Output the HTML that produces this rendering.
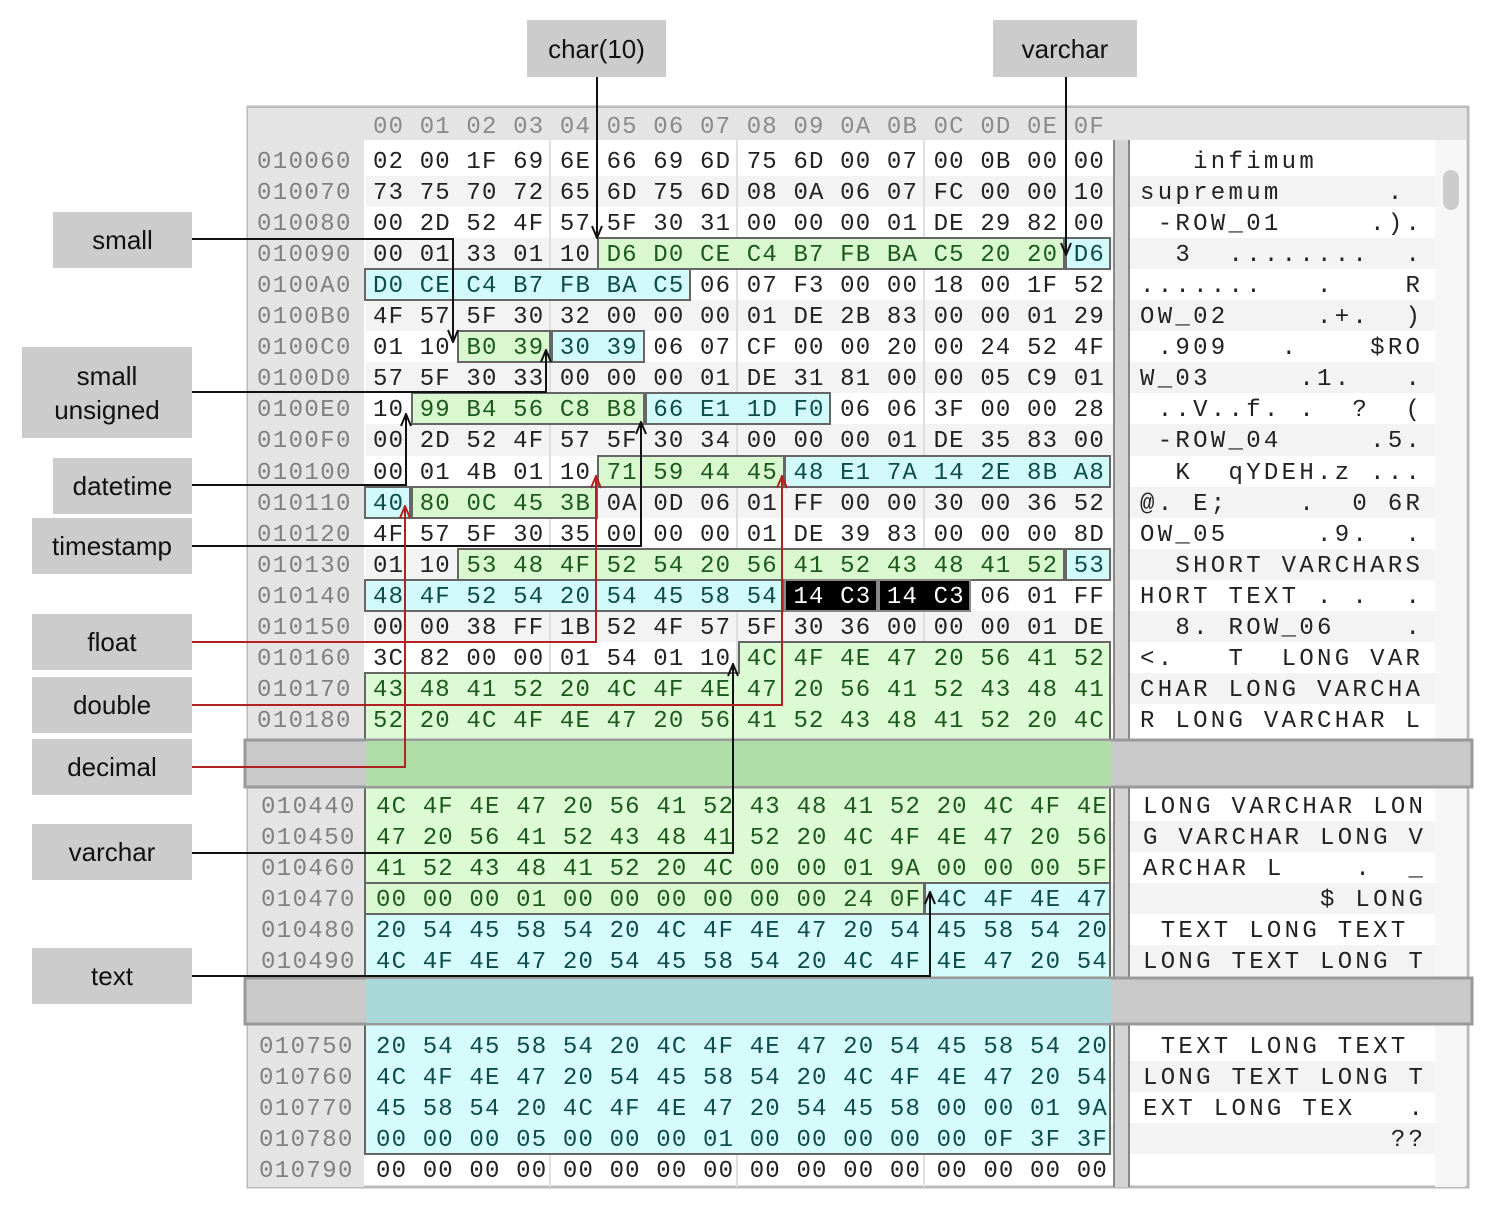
<!DOCTYPE html>
<html><head><meta charset="utf-8"><style>
*{margin:0;padding:0;box-sizing:border-box}
body{width:1502px;height:1230px;background:#fff;position:relative;overflow:hidden;font-family:"Liberation Sans",sans-serif}
.r{position:absolute;height:31px;line-height:31px;padding-top:2px;font-family:"Liberation Mono",monospace;font-size:24px;white-space:pre}
.h{left:373px;letter-spacing:1.17px;color:#222}
.a{left:257px;letter-spacing:1.4px;color:#808080}
.t{left:1140px;letter-spacing:3.3px;color:#222}
.g{color:#1b5a1b}.c{color:#0c4c4c}.w{color:#fff}
.lab{position:absolute;background:#cccccc;font-size:26px;color:#111;display:flex;align-items:center;justify-content:center;text-align:center;line-height:34px}
svg{position:absolute;left:0;top:0}
</style></head><body>
<svg width="1502" height="1230" style="z-index:0">
<rect x="248" y="107" width="1220" height="1080" fill="#fff" stroke="#bbb" stroke-width="3"/>
<rect x="248" y="108" width="1218" height="32" fill="#e4e4e4"/>
<rect x="248" y="140" width="116" height="1047" fill="#e4e4e4"/>
<rect x="1113" y="140" width="17" height="1047" fill="#d4d4d4"/>
<line x1="1114" y1="140" x2="1114" y2="1187" stroke="#888" stroke-width="2"/>
<line x1="1129" y1="140" x2="1129" y2="1187" stroke="#888" stroke-width="2"/>
<rect x="1435" y="140" width="30" height="1047" fill="#f6f6f6"/>
<rect x="1443" y="170" width="16" height="40" rx="8" fill="#ccc"/>
<g fill="#f2f3f2">
<rect x="366" y="176" width="747" height="31"/><rect x="1130" y="176" width="305" height="31"/>
<rect x="366" y="238" width="747" height="31"/><rect x="1130" y="238" width="305" height="31"/>
<rect x="366" y="300" width="747" height="31"/><rect x="1130" y="300" width="305" height="31"/>
<rect x="366" y="362" width="747" height="31"/><rect x="1130" y="362" width="305" height="31"/>
<rect x="366" y="424" width="747" height="32"/><rect x="1130" y="424" width="305" height="32"/>
<rect x="366" y="487" width="747" height="31"/><rect x="1130" y="487" width="305" height="31"/>
<rect x="366" y="549" width="747" height="31"/><rect x="1130" y="549" width="305" height="31"/>
<rect x="366" y="611" width="747" height="31"/><rect x="1130" y="611" width="305" height="31"/>
<rect x="366" y="673" width="747" height="31"/><rect x="1130" y="673" width="305" height="31"/>
<rect x="366" y="821" width="747" height="31"/><rect x="1130" y="821" width="305" height="31"/>
<rect x="366" y="883" width="747" height="31"/><rect x="1130" y="883" width="305" height="31"/>
<rect x="366" y="945" width="747" height="31"/><rect x="1130" y="945" width="305" height="31"/>
<rect x="366" y="1061" width="747" height="31"/><rect x="1130" y="1061" width="305" height="31"/>
<rect x="366" y="1123" width="747" height="31"/><rect x="1130" y="1123" width="305" height="31"/>
</g>
<g stroke="#dde0dd" stroke-width="2"><line x1="550" y1="140" x2="550" y2="1187"/><line x1="737" y1="140" x2="737" y2="1187"/><line x1="924" y1="140" x2="924" y2="1187"/></g>
<g stroke="#666" stroke-width="2">
<rect x="598" y="238" width="466" height="31" fill="#d9f8d0"/><rect x="1066" y="238" width="44" height="31" fill="#d3fafa"/>
<rect x="365" y="269" width="325" height="31" fill="#d3fafa"/>
<rect x="458" y="331" width="92" height="31" fill="#d9f8d0"/><rect x="552" y="331" width="92" height="31" fill="#d3fafa"/>
<rect x="412" y="393" width="232" height="31" fill="#d9f8d0"/><rect x="646" y="393" width="184" height="31" fill="#d3fafa"/>
<rect x="598" y="456" width="186" height="31" fill="#d9f8d0"/><rect x="785" y="456" width="325" height="31" fill="#d3fafa"/>
<rect x="365" y="487" width="45" height="31" fill="#d3fafa"/><rect x="412" y="487" width="185" height="31" fill="#d9f8d0"/>
<rect x="458" y="549" width="606" height="31" fill="#d9f8d0"/><rect x="1066" y="549" width="44" height="31" fill="#d3fafa"/>
<rect x="365" y="580" width="419" height="31" fill="#d3fafa"/>
<rect x="785" y="580" width="92" height="31" fill="#000" stroke="#888"/><rect x="879" y="580" width="91" height="31" fill="#000" stroke="#888"/>
<polygon points="739,642 1110,642 1110,883 365,883 365,673 739,673" fill="#dcfad4"/>
<rect x="365" y="883" width="559" height="31" fill="#d9f8d0"/><rect x="925" y="883" width="185" height="31" fill="#d3fafa"/>
<rect x="365" y="914" width="745" height="240" fill="#d6fbfb"/>
</g>
<rect x="245" y="740" width="1227" height="47" fill="#c9c9c9" stroke="#999" stroke-width="3"/>
<rect x="366" y="741" width="745" height="45" fill="#b0dca8"/>
<rect x="245" y="978" width="1227" height="46" fill="#c9c9c9" stroke="#999" stroke-width="3"/>
<rect x="366" y="979" width="745" height="44" fill="#a8d8d8"/>
</svg>
<div style="position:absolute;left:0;top:0;z-index:1">
<div class="r a" style="top:110px;left:373px;letter-spacing:1.17px;color:#8a8a8a">00 01 02 03 04 05 06 07 08 09 0A 0B 0C 0D 0E 0F</div>
<div class="r a" style="top:145px">010060</div><div class="r h" style="top:145px">02 00 1F 69 6E 66 69 6D 75 6D 00 07 00 0B 00 00</div><div class="r t" style="top:145px">   infimum</div>
<div class="r a" style="top:176px">010070</div><div class="r h" style="top:176px">73 75 70 72 65 6D 75 6D 08 0A 06 07 FC 00 00 10</div><div class="r t" style="top:176px">supremum      .</div>
<div class="r a" style="top:207px">010080</div><div class="r h" style="top:207px">00 2D 52 4F 57 5F 30 31 00 00 00 01 DE 29 82 00</div><div class="r t" style="top:207px"> -ROW_01     .).</div>
<div class="r a" style="top:238px">010090</div><div class="r h" style="top:238px">00 01 33 01 10 <span class="g">D6 D0 CE C4 B7 FB BA C5 20 20</span> <span class="c">D6</span></div><div class="r t" style="top:238px">  3  ........  .</div>
<div class="r a" style="top:269px">0100A0</div><div class="r h" style="top:269px"><span class="c">D0 CE C4 B7 FB BA C5</span> 06 07 F3 00 00 18 00 1F 52</div><div class="r t" style="top:269px">.......   .    R</div>
<div class="r a" style="top:300px">0100B0</div><div class="r h" style="top:300px">4F 57 5F 30 32 00 00 00 01 DE 2B 83 00 00 01 29</div><div class="r t" style="top:300px">OW_02     .+.  )</div>
<div class="r a" style="top:331px">0100C0</div><div class="r h" style="top:331px">01 10 <span class="g">B0 39</span> <span class="c">30 39</span> 06 07 CF 00 00 20 00 24 52 4F</div><div class="r t" style="top:331px"> .909   .    $RO</div>
<div class="r a" style="top:362px">0100D0</div><div class="r h" style="top:362px">57 5F 30 33 00 00 00 01 DE 31 81 00 00 05 C9 01</div><div class="r t" style="top:362px">W_03     .1.   .</div>
<div class="r a" style="top:393px">0100E0</div><div class="r h" style="top:393px">10 <span class="g">99 B4 56 C8 B8</span> <span class="c">66 E1 1D F0</span> 06 06 3F 00 00 28</div><div class="r t" style="top:393px"> ..V..f. .  ?  (</div>
<div class="r a" style="top:424px">0100F0</div><div class="r h" style="top:424px">00 2D 52 4F 57 5F 30 34 00 00 00 01 DE 35 83 00</div><div class="r t" style="top:424px"> -ROW_04     .5.</div>
<div class="r a" style="top:456px">010100</div><div class="r h" style="top:456px">00 01 4B 01 10 <span class="g">71 59 44 45</span> <span class="c">48 E1 7A 14 2E 8B A8</span></div><div class="r t" style="top:456px">  K  qYDEH.z ...</div>
<div class="r a" style="top:487px">010110</div><div class="r h" style="top:487px"><span class="c">40</span> <span class="g">80 0C 45 3B</span> 0A 0D 06 01 FF 00 00 30 00 36 52</div><div class="r t" style="top:487px">@. E;    .  0 6R</div>
<div class="r a" style="top:518px">010120</div><div class="r h" style="top:518px">4F 57 5F 30 35 00 00 00 01 DE 39 83 00 00 00 8D</div><div class="r t" style="top:518px">OW_05     .9.  .</div>
<div class="r a" style="top:549px">010130</div><div class="r h" style="top:549px">01 10 <span class="g">53 48 4F 52 54 20 56 41 52 43 48 41 52</span> <span class="c">53</span></div><div class="r t" style="top:549px">  SHORT VARCHARS</div>
<div class="r a" style="top:580px">010140</div><div class="r h" style="top:580px"><span class="c">48 4F 52 54 20 54 45 58 54</span> <span class="w">14 C3 14 C3</span> 06 01 FF</div><div class="r t" style="top:580px">HORT TEXT . .  .</div>
<div class="r a" style="top:611px">010150</div><div class="r h" style="top:611px">00 00 38 FF 1B 52 4F 57 5F 30 36 00 00 00 01 DE</div><div class="r t" style="top:611px">  8. ROW_06    .</div>
<div class="r a" style="top:642px">010160</div><div class="r h" style="top:642px">3C 82 00 00 01 54 01 10 <span class="g">4C 4F 4E 47 20 56 41 52</span></div><div class="r t" style="top:642px">&lt;.   T  LONG VAR</div>
<div class="r a" style="top:673px">010170</div><div class="r h g" style="top:673px">43 48 41 52 20 4C 4F 4E 47 20 56 41 52 43 48 41</div><div class="r t" style="top:673px">CHAR LONG VARCHA</div>
<div class="r a" style="top:704px">010180</div><div class="r h g" style="top:704px">52 20 4C 4F 4E 47 20 56 41 52 43 48 41 52 20 4C</div><div class="r t" style="top:704px">R LONG VARCHAR L</div>

<div class="r a" style="top:790px;left:261px">010440</div><div class="r h g" style="top:790px;left:376px">4C 4F 4E 47 20 56 41 52 43 48 41 52 20 4C 4F 4E</div><div class="r t" style="top:790px;left:1143px">LONG VARCHAR LON</div>
<div class="r a" style="top:821px;left:261px">010450</div><div class="r h g" style="top:821px;left:376px">47 20 56 41 52 43 48 41 52 20 4C 4F 4E 47 20 56</div><div class="r t" style="top:821px;left:1143px">G VARCHAR LONG V</div>
<div class="r a" style="top:852px;left:261px">010460</div><div class="r h g" style="top:852px;left:376px">41 52 43 48 41 52 20 4C 00 00 01 9A 00 00 00 5F</div><div class="r t" style="top:852px;left:1143px">ARCHAR L    .  _</div>
<div class="r a" style="top:883px;left:261px">010470</div><div class="r h" style="top:883px;left:376px"><span class="g">00 00 00 01 00 00 00 00 00 00 24 0F</span> <span class="c">4C 4F 4E 47</span></div><div class="r t" style="top:883px;left:1143px">          $ LONG</div>
<div class="r a" style="top:914px;left:261px">010480</div><div class="r h c" style="top:914px;left:376px">20 54 45 58 54 20 4C 4F 4E 47 20 54 45 58 54 20</div><div class="r t" style="top:914px;left:1143px"> TEXT LONG TEXT</div>
<div class="r a" style="top:945px;left:261px">010490</div><div class="r h c" style="top:945px;left:376px">4C 4F 4E 47 20 54 45 58 54 20 4C 4F 4E 47 20 54</div><div class="r t" style="top:945px;left:1143px">LONG TEXT LONG T</div>

<div class="r a" style="top:1030px;left:259px">010750</div><div class="r h c" style="top:1030px;left:376px">20 54 45 58 54 20 4C 4F 4E 47 20 54 45 58 54 20</div><div class="r t" style="top:1030px;left:1143px"> TEXT LONG TEXT</div>
<div class="r a" style="top:1061px;left:259px">010760</div><div class="r h c" style="top:1061px;left:376px">4C 4F 4E 47 20 54 45 58 54 20 4C 4F 4E 47 20 54</div><div class="r t" style="top:1061px;left:1143px">LONG TEXT LONG T</div>
<div class="r a" style="top:1092px;left:259px">010770</div><div class="r h c" style="top:1092px;left:376px">45 58 54 20 4C 4F 4E 47 20 54 45 58 00 00 01 9A</div><div class="r t" style="top:1092px;left:1143px">EXT LONG TEX   .</div>
<div class="r a" style="top:1123px;left:259px">010780</div><div class="r h c" style="top:1123px;left:376px">00 00 00 05 00 00 00 01 00 00 00 00 00 0F 3F 3F</div><div class="r t" style="top:1123px;left:1143px">              ??</div>
<div class="r a" style="top:1154px;left:259px">010790</div><div class="r h" style="top:1154px;left:376px">00 00 00 00 00 00 00 00 00 00 00 00 00 00 00 00</div>
</div>
<svg width="1502" height="1230" style="z-index:2">
<defs>
<marker id="ak" markerWidth="14" markerHeight="12" refX="13" refY="6" orient="auto" markerUnits="userSpaceOnUse"><path d="M1,1 L13,6 L1,11" fill="none" stroke="#111" stroke-width="2"/></marker>
<marker id="ar" markerWidth="14" markerHeight="12" refX="13" refY="6" orient="auto" markerUnits="userSpaceOnUse"><path d="M1,1 L13,6 L1,11" fill="none" stroke="#b22222" stroke-width="2"/></marker>
</defs>
<g fill="none" stroke="#111" stroke-width="2" marker-end="url(#ak)">
<path d="M597,77 V238"/>
<path d="M1066,77 V255"/>
<path d="M192,239 H453 V342"/>
<path d="M192,392 H546 V350"/>
<path d="M192,485 H406 V414"/>
<path d="M192,546 H641 V422"/>
<path d="M192,853 H733 V664"/>
<path d="M192,976 H930 V892"/>
</g>
<g fill="none" stroke="#b22222" stroke-width="2" marker-end="url(#ar)">
<path d="M192,642 H596 V476"/>
<path d="M192,705 H782 V476"/>
<path d="M192,767 H405 V506"/>
</g>
</svg>
<div class="lab" style="left:527px;top:20px;width:139px;height:57px;z-index:3">char(10)</div>
<div class="lab" style="left:993px;top:20px;width:144px;height:57px;z-index:3">varchar</div>
<div class="lab" style="left:53px;top:212px;width:139px;height:56px;z-index:3">small</div>
<div class="lab" style="left:22px;top:347px;width:170px;height:91px;z-index:3">small<br>unsigned</div>
<div class="lab" style="left:53px;top:458px;width:139px;height:56px;z-index:3">datetime</div>
<div class="lab" style="left:32px;top:518px;width:160px;height:56px;z-index:3">timestamp</div>
<div class="lab" style="left:32px;top:614px;width:160px;height:56px;z-index:3">float</div>
<div class="lab" style="left:32px;top:677px;width:160px;height:56px;z-index:3">double</div>
<div class="lab" style="left:32px;top:739px;width:160px;height:56px;z-index:3">decimal</div>
<div class="lab" style="left:32px;top:824px;width:160px;height:56px;z-index:3">varchar</div>
<div class="lab" style="left:32px;top:948px;width:160px;height:56px;z-index:3">text</div>
</body></html>
